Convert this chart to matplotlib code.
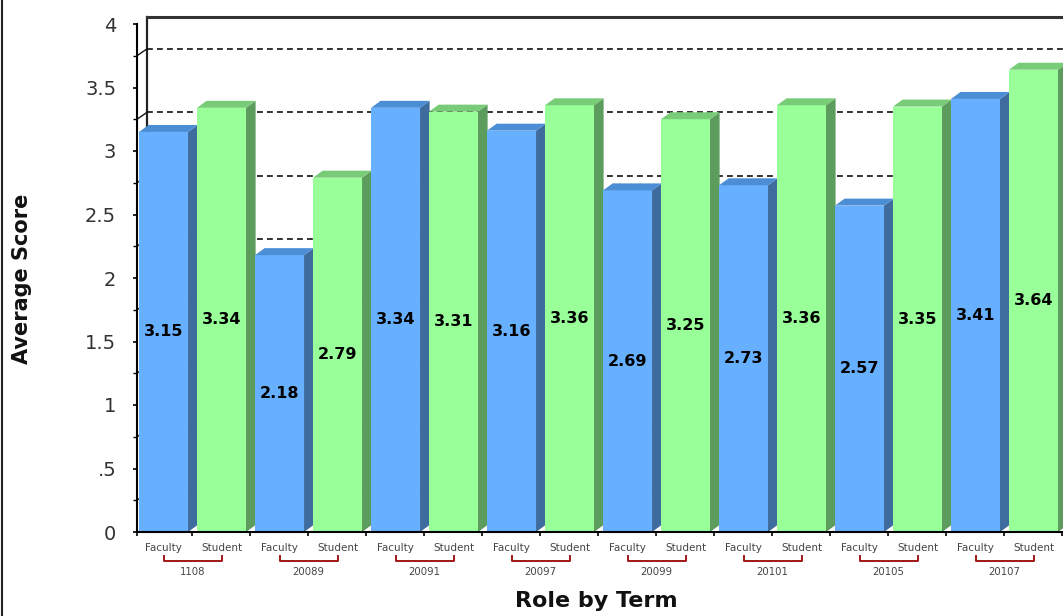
import matplotlib
matplotlib.use('Agg')
import matplotlib.pyplot as plt
import matplotlib.transforms as mtransforms
from matplotlib.patches import Polygon

terms = ['1108', '20089', '20091', '20097', '20099', '20101', '20105', '20107']
roles = ['Faculty', 'Student']
faculty = [3.15, 2.18, 3.34, 3.16, 2.69, 2.73, 2.57, 3.41]
student = [3.34, 2.79, 3.31, 3.36, 3.25, 3.36, 3.35, 3.64]

# colours: front, side, top
colors = {
    'Faculty': ('#66b0ff', '#3e6c9e', '#4c8ed6'),
    'Student': ('#99ff99', '#5c9c5c', '#78cc78'),
}

bw = 0.845        # front face width
dx, dy = 0.165, 0.055   # depth offset
x0 = -0.035

fig = plt.figure(figsize=(10.63, 6.16), dpi=100)
ax = fig.add_axes([137 / 1063, 84 / 616, 930 / 1063, 508 / 616])
ax.set_xlim(x0, 16)
ax.set_ylim(0, 4)

# back wall
bx = x0 + dx + 0.01
ax.plot([bx, bx], [dy, 4 + dy], color='#222222', lw=1.6, zorder=1, clip_on=False)
ax.plot([bx, 16.5], [4 + dy, 4 + dy], color='#333333', lw=2.2, zorder=1, clip_on=False)
for g in [3.75, 3.25, 2.75, 2.25, 1.75, 1.25, 0.75, 0.25]:
    ax.plot([bx, 16.5], [g + dy, g + dy], color='#111111', lw=1.2,
            ls=(0, (3.5, 2.5)), zorder=1, clip_on=False)
    ax.plot([x0, bx], [g, g + dy], color='#111111', lw=1.0, zorder=1, clip_on=False)

# bars
pos = 0
for i in range(len(terms)):
    for role, v in zip(roles, [faculty[i], student[i]]):
        front, side, top = colors[role]
        ax.bar(pos, v, width=bw, align='edge', color=front, zorder=3, linewidth=0)
        x1 = pos + bw
        ax.add_patch(Polygon([(x1, 0), (x1 + dx, dy), (x1 + dx, v + dy), (x1, v)],
                             closed=True, facecolor=side, edgecolor='none', zorder=3))
        ax.add_patch(Polygon([(pos, v), (x1, v), (x1 + dx, v + dy), (pos + dx, v + dy)],
                             closed=True, facecolor=top, edgecolor='none', zorder=3))
        ax.text(pos + bw / 2, v / 2, f'{v:.2f}', ha='center', va='center',
                fontsize=11.5, fontweight='bold', color='black', zorder=5)
        pos += 1

# axes styling
for s in ['top', 'right']:
    ax.spines[s].set_visible(False)
ax.spines['left'].set_linewidth(1.5)
ax.spines['bottom'].set_linewidth(1.5)
ax.spines['left'].set_zorder(6)
ax.spines['bottom'].set_zorder(6)

yt = [0, 0.5, 1, 1.5, 2, 2.5, 3, 3.5, 4]
ax.set_yticks(yt)
ax.set_yticklabels(['0', '.5', '1', '1.5', '2', '2.5', '3', '3.5', '4'])
ax.set_yticks([0.25, 0.75, 1.25, 1.75, 2.25, 2.75, 3.25, 3.75], minor=True)
ax.tick_params(axis='y', which='major', length=3, width=1.2, pad=12,
               labelsize=14, labelcolor='#333333')
ax.tick_params(axis='y', which='minor', length=3, width=1.0)

n = 2 * len(terms)
ax.set_xticks([k + bw / 2 for k in range(n)])
ax.set_xticklabels(roles * len(terms))
ax.set_xticks([x0] + [k + 0.92 for k in range(n)], minor=True)
ax.tick_params(axis='x', which='major', length=0, pad=8, labelsize=7.5,
               labelcolor='#444444')
ax.tick_params(axis='x', which='minor', length=3, width=1.2)

# term brackets
trans = mtransforms.blended_transform_factory(ax.transData, ax.transAxes)
for i, t in enumerate(terms):
    a = 2 * i + bw / 2
    b = 2 * i + 1 + bw / 2
    ax.plot([a, a, b, b], [-0.047, -0.057, -0.057, -0.047], color='#a01818',
            lw=1.4, transform=trans, clip_on=False)
    ax.text((a + b) / 2, -0.079, t, transform=trans, ha='center', va='center',
            fontsize=7.3, color='#444444')

fig.text(0.561, 0.024, 'Role by Term', ha='center', va='center',
         fontsize=16, fontweight='bold', color='#111111')
fig.text(0.021, 0.547, 'Average Score', ha='center', va='center', rotation=90,
         fontsize=15, fontweight='bold', color='#111111')

# outer frame line on the left
fig.add_artist(plt.Line2D([2 / 1063, 2 / 1063], [0, 1], color='#222222', lw=1.5,
                          transform=fig.transFigure))

fig.savefig('out.png', dpi=100)
